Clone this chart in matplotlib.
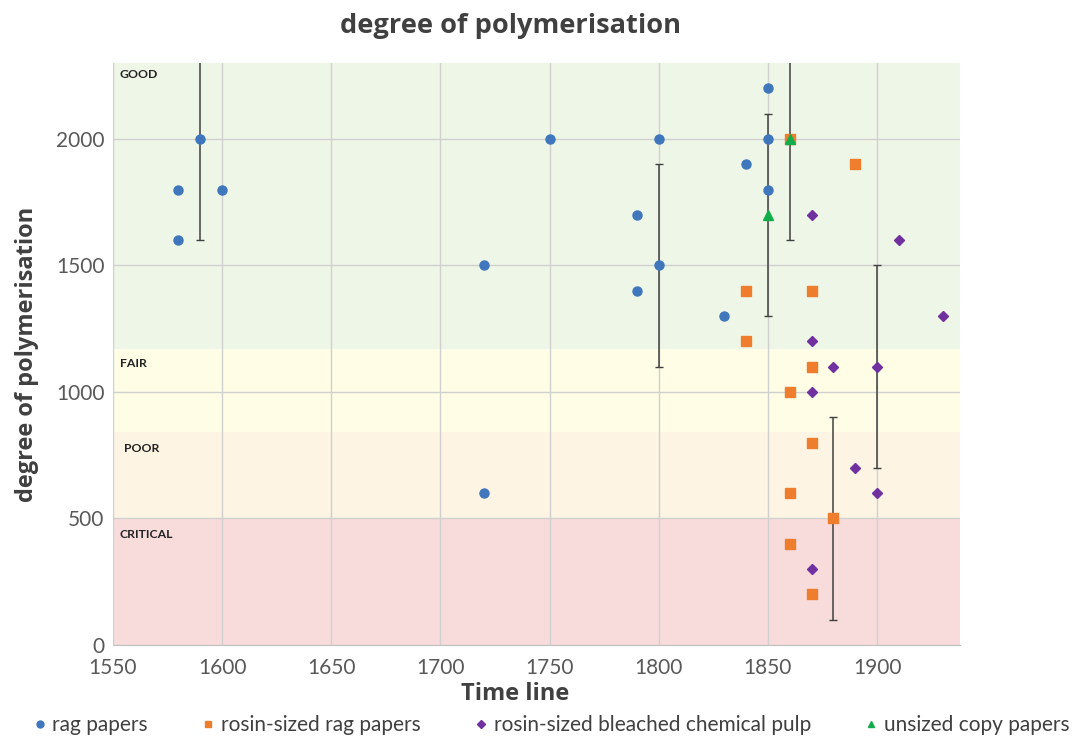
import matplotlib
matplotlib.use("Agg")
import matplotlib.pyplot as plt
from matplotlib.lines import Line2D

plt.rcParams['font.family'] = ['Lato', 'DejaVu Sans']

# ---- data ----
rag_x = [1580, 1580, 1590, 1600, 1720, 1720, 1750, 1790, 1790, 1800, 1800, 1830, 1840, 1850, 1850, 1850]
rag_y = [1800, 1600, 2000, 1800, 1500, 600, 2000, 1700, 1400, 2000, 1500, 1300, 1900, 2200, 2000, 1800]

rosin_rag_x = [1860, 1890, 1840, 1870, 1840, 1870, 1860, 1870, 1860, 1880, 1860, 1870]
rosin_rag_y = [2000, 1900, 1400, 1400, 1200, 1100, 1000, 800, 600, 500, 400, 200]

pulp_x = [1870, 1910, 1930, 1870, 1880, 1900, 1870, 1890, 1900, 1870]
pulp_y = [1700, 1600, 1300, 1200, 1100, 1100, 1000, 700, 600, 300]

copy_x = [1860, 1850]
copy_y = [2000, 1700]

err_x = [1590, 1800, 1850, 1860, 1880, 1900]
err_y = [2000, 1500, 1700, 2000, 500, 1100]
err_v = [400, 400, 400, 400, 400, 400]

bands = [  # (low, high, label, colour)
    (0, 500, 'CRITICAL', '#F8DCDC'),
    (500, 840, 'POOR', '#FDF4E3'),
    (840, 1170, 'FAIR', '#FFFDE6'),
    (1170, 2300, 'GOOD', '#EEF7E7'),
]
xticks = [1550, 1600, 1650, 1700, 1750, 1800, 1850, 1900]
yticks = [0, 500, 1000, 1500, 2000]

HEAD = ['Open Sans', 'DejaVu Sans']

fig = plt.figure(figsize=(10.73, 7.37), dpi=100)
ax = fig.add_axes([0.1053, 0.1248, 0.7894, 0.7897])
ax.set_xlim(1550, 1938)
ax.set_ylim(0, 2300)

for lo, hi, lab, col in bands:
    ax.axhspan(lo, hi, color=col, zorder=0, lw=0)

label_pos = {'GOOD': (1553, 2275), 'FAIR': (1553, 1135), 'POOR': (1555, 800), 'CRITICAL': (1553, 460)}
for lo, hi, lab, col in bands:
    x, y = label_pos[lab]
    ax.text(x, y, lab, fontsize=8.8, fontweight='bold', color='#222222', va='top', ha='left', zorder=3)

ax.set_xticks(xticks)
ax.set_yticks(yticks)
ax.grid(True, color='#D0D0D0', lw=1, zorder=0.5)
ax.set_axisbelow(True)
for s in ['top', 'right', 'left']:
    ax.spines[s].set_visible(False)
ax.spines['bottom'].set_color('#BFBFBF')
ax.tick_params(axis='both', length=0, labelsize=15, colors='#595959')
ax.tick_params(axis='x', pad=9)
ax.tick_params(axis='y', pad=6)

ax.errorbar(err_x, err_y, yerr=err_v, fmt='none', ecolor='#404040', elinewidth=1.1,
            capsize=3, capthick=1, zorder=2)

ax.plot(rag_x, rag_y, 'o', color='#3F76BC', ms=6.5, zorder=3, label='rag papers')
ax.plot(rosin_rag_x, rosin_rag_y, 's', color='#EE7D2E', ms=7, zorder=3, label='rosin-sized rag papers')
ax.plot(pulp_x, pulp_y, 'D', color='#7030A0', ms=5.5, zorder=3, label='rosin-sized bleached chemical pulp')
ax.plot(copy_x, copy_y, '^', color='#12AD4B', ms=7, zorder=4, label='unsized copy papers')

fig.text(0.476, 0.965, 'degree of polymerisation', ha='center', va='center',
         fontsize=19.6, fontweight='bold', color='#404040', family=HEAD)
ax.set_ylabel('degree of polymerisation', fontsize=17, fontweight='bold', color='#404040', family=HEAD)
ax.yaxis.set_label_coords(-0.0875, 0.5)
ax.set_xlabel('Time line', fontsize=17, fontweight='bold', color='#404040', family=HEAD)
ax.xaxis.set_label_coords(0.475, -0.064)

handles = [
    Line2D([], [], marker='o', ls='none', color='#3F76BC', ms=5),
    Line2D([], [], marker='s', ls='none', color='#EE7D2E', ms=5),
    Line2D([], [], marker='D', ls='none', color='#7030A0', ms=4),
    Line2D([], [], marker='^', ls='none', color='#12AD4B', ms=5),
]
labels = ['rag papers', 'rosin-sized rag papers', 'rosin-sized bleached chemical pulp', 'unsized copy papers']
fig.legend(handles, labels, loc='center', bbox_to_anchor=(0.512, 0.016), ncol=4, frameon=False,
           fontsize=15, handletextpad=0.1, columnspacing=2.4, labelcolor='#404040', handlelength=1.0)

fig.savefig('out.png', dpi=100, facecolor='white')
